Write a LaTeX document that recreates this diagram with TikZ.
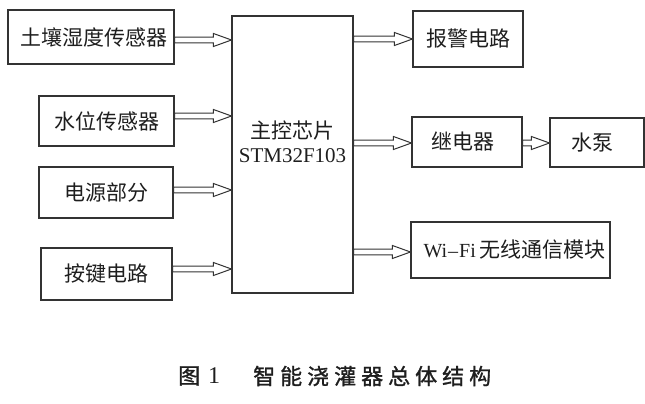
\documentclass[tikz,border=0pt]{standalone}
\usepackage{fontspec}
\setmainfont{Liberation Serif}
\newfontfamily\cjk{Noto Sans CJK SC}
\newfontfamily\cjkcap[FakeBold=1.2]{Noto Sans CJK SC}
\usetikzlibrary{calc}
\definecolor{linegray}{HTML}{333333}
\definecolor{textgray}{HTML}{1E1E1E}
\tikzset{
  blk/.style={draw=linegray, line width=1.1pt, rectangle, inner sep=0pt, text=textgray,
              font=\cjk\fontsize{21}{24}\selectfont},
  arrowline/.style={draw=linegray, line width=1pt, fill=white, line join=miter},
  captext/.style={text=textgray, inner sep=0pt, anchor=west, font=\cjkcap\fontsize{22}{24}\selectfont},
}
% #1: start x point, #2: end x point, #3: y point
\newcommand{\harr}[3]{%
  \draw[arrowline] let \p1=(#1), \p2=(#2), \p3=(#3) in
    (\x1,\y3+2.8pt) -- (\x2-18pt,\y3+2.8pt) -- (\x2-18pt,\y3+6.5pt) -- (\x2,\y3)
    -- (\x2-18pt,\y3-6.5pt) -- (\x2-18pt,\y3-2.8pt) -- (\x1,\y3-2.8pt) -- cycle;}
\begin{document}
\begin{tikzpicture}[x=1pt,y=-1pt]
\useasboundingbox (0,0) rectangle (645,404);
% left blocks
\node[blk, minimum width=166pt, minimum height=54pt] (soil) at (91,37) {\hspace{6pt}土壤湿度传感器};
\node[blk, minimum width=135pt, minimum height=50pt] (water) at (106.5,121) {水位传感器};
\node[blk, minimum width=134pt, minimum height=51pt] (power) at (106,192.5) {电源部分};
\node[blk, minimum width=131pt, minimum height=52pt] (key) at (106.5,274) {按键电路};
% main block
\node[blk, minimum width=121pt, minimum height=277pt] (main) at (292.5,154.5) {};
\node[text=textgray, inner sep=0pt] (maintitle) at (292.5,131)
  {\cjk\fontsize{21}{24}\selectfont 主控芯片};
\node[text=textgray, inner sep=0pt, font=\fontsize{21}{24}\selectfont] (mainpart) at (292.5,156)
  {STM32F103};
% right blocks
\node[blk, minimum width=110pt, minimum height=56pt] (alarm) at (468,39) {报警电路};
\node[blk, minimum width=110pt, minimum height=50pt] (relay) at (467,142) {\hspace{-8pt}继电器};
\node[blk, minimum width=94pt, minimum height=49pt] (pump) at (597,142.5) {\hspace{-10pt}水泵};
\node[blk, minimum width=199pt, minimum height=56pt] (wifi) at (510.5,250)
  {\hspace{8pt}{\rmfamily\fontsize{20}{24}\selectfont Wi\kern1pt–\kern1pt Fi}\,无线通信模块};
% arrows
\harr{soil.east}{main.west}{$(soil.east)+(0,3)$}
\harr{water.east}{main.west}{$(water.east)+(0,-5)$}
\harr{power.east}{main.west}{$(power.east)+(0,-2.5)$}
\harr{key.east}{main.west}{$(key.east)+(0,-5)$}
\harr{main.east}{alarm.west}{alarm.west}
\harr{main.east}{relay.west}{$(relay.west)+(0,1)$}
\harr{relay.east}{pump.west}{$(relay.east)+(0,1)$}
\harr{main.east}{wifi.west}{$(wifi.west)+(0,2)$}
% caption
\node[captext] (capnum) at (178,376)
  {图\hspace{8pt}{\rmfamily\fontsize{24}{24}\selectfont 1}};
\node[captext] (captitle) at (253,376)
  {智\hspace{5pt}能\hspace{5pt}浇\hspace{5pt}灌\hspace{5pt}器\hspace{5pt}总\hspace{5pt}体\hspace{5pt}结\hspace{5pt}构};
\end{tikzpicture}
\end{document}
